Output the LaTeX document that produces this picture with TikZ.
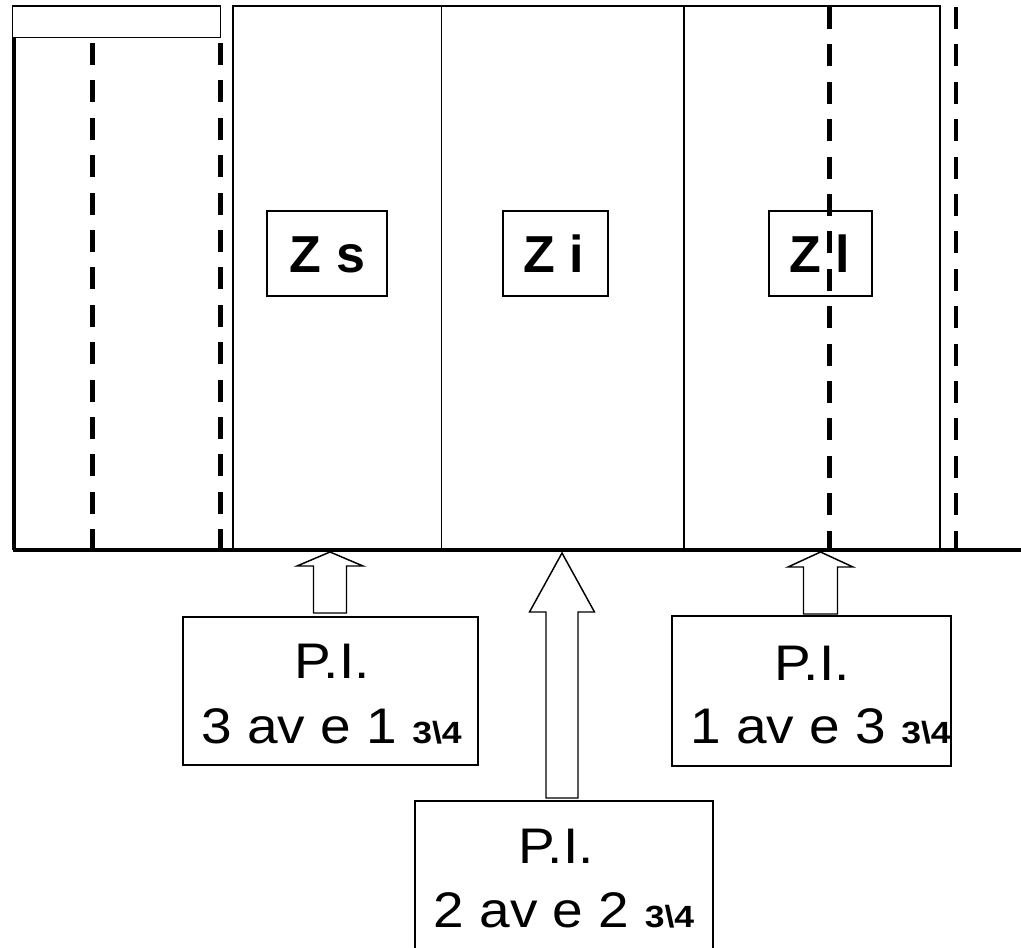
\documentclass[tikz,border=0pt]{standalone}
\usepackage{fontspec}
\setmainfont{Liberation Sans}
\newfontfamily\widesans[FakeStretch=1.1]{Liberation Sans}
\newfontfamily\widebold[FakeStretch=1.16]{Liberation Sans Bold}
\begin{document}
\begin{tikzpicture}[x=0.75pt,y=-0.75pt,
  frame/.style={line width=1.1pt},
  guide/.style={line width=3.4pt, dash pattern=on 16.5pt off 11.55pt},
  ground/.style={line width=3.2pt},
  zonebox/.style={draw, line width=1.1pt, inner sep=0pt, minimum height=63.75pt},
  pibox/.style={draw, line width=1.1pt, inner sep=0pt},
  zonetext/.style={anchor=base, inner sep=0pt, font=\fontsize{39}{40}\selectfont\bfseries},
  pitext/.style={anchor=base, inner sep=0pt, font=\fontsize{37.5}{40}\selectfont\widesans},
  blk/.style={draw, line width=1.1pt, fill=white, line join=miter}]
\newcommand\threequarter{{\fontsize{23}{24}\selectfont\widebold 3\textbackslash 4}}
\useasboundingbox (0,0) rectangle (1021,948);
\clip (0,0) rectangle (1021,948);

% header strip above the first column
\draw[frame] (12.7,6) rectangle (220.7,37.7);
% outer wall and ground line
\coordinate (wallTop) at (14,37.7);
\coordinate (wallFoot) at (14,550);
\coordinate (groundEnd) at (1021,550);
\draw[ground] (wallTop) -- (wallFoot);
% zone columns
\draw[frame] (233,550) -- (233,6) -- (940,6) -- (940,550);
\draw[frame] (441.5,6) -- (441.5,550);
\draw[frame] (684,6) -- (684,550);
\draw[ground] (12.5,550) -- (groundEnd);

% zone labels
\node[zonebox, minimum width=90pt] (zs) at (327,253.5) {};
\node[zonebox, minimum width=78.75pt] (zi) at (555.5,253.5) {};
\node[zonebox, minimum width=77.25pt] (zl) at (820.5,253.5) {};
\node[zonetext] (zsT) at (327.5,273) {Z s};
\node[zonetext] (ziT) at (553.5,273) {Z i};
\node[zonetext] (zlT) at (820,273) {Z l};

% dashed guide lines
\draw[guide] (92.5,43) -- (92.5,550);
\draw[guide] (220.5,43) -- (220.5,550);
\draw[guide] (829.5,7) -- (829.5,550);
\draw[guide] (956,7) -- (956,550);

% P.I. boxes
\node[pibox, minimum width=221.25pt, minimum height=111pt] (pa) at (330.5,691) {};
\node[pibox, minimum width=209.25pt, minimum height=112.5pt] (pc) at (811.5,691) {};
\node[pibox, minimum width=223.5pt, minimum height=119.25pt] (pb) at (564,880.5) {};
\node[pitext] (paT) at (332,678) {P.I.};
\node[pitext] (paL) at (331.5,743) {3 av e 1 \threequarter};
\node[pitext] (pcT) at (812,680) {P.I.};
\node[pitext] (pcL) at (820.5,743) {1 av e 3 \threequarter};
\node[pitext] (pbT) at (556,863) {P.I.};
\node[pitext] (pbL) at (564,927) {2 av e 2 \threequarter};

% block arrows pointing up to the ground line
\coordinate (tipA) at (330,552);
\coordinate (tipB) at (562,553);
\coordinate (tipC) at (820.5,552);
\draw[blk] (tipA) -- ++(33,14) -- ++(-16.5,0) -- ++(0,47) -- ++(-33,0) -- ++(0,-47) -- ++(-16.5,0) -- cycle;
\draw[blk] (tipB) -- ++(32.5,59) -- ++(-16.5,0) -- ++(0,186) -- ++(-32,0) -- ++(0,-186) -- ++(-16.5,0) -- cycle;
\draw[blk] (tipC) -- ++(32.5,15) -- ++(-15.5,0) -- ++(0,47) -- ++(-34,0) -- ++(0,-47) -- ++(-15.5,0) -- cycle;
\end{tikzpicture}
\end{document}
